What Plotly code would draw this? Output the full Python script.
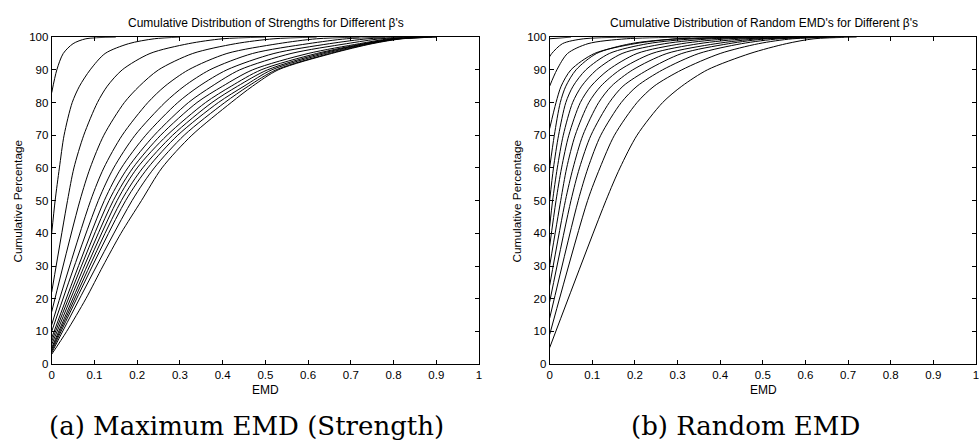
import plotly.graph_objects as go

# ---------------- data ----------------
# (a) Maximum EMD (Strength): one curve per beta, x = EMD, y = cumulative %
strength_x = [
    [0, 0.012, 0.027, 0.05, 0.08, 0.15],
    [0, 0.008, 0.018, 0.029, 0.048, 0.065, 0.09, 0.125, 0.18, 0.24, 0.3],
    [0, 0.037, 0.052, 0.075, 0.107, 0.13, 0.165, 0.23, 0.32, 0.4, 0.5],
    [0, 0.066, 0.09, 0.122, 0.17, 0.205, 0.25, 0.33, 0.43, 0.52, 0.62],
    [0, 0.091, 0.122, 0.165, 0.225, 0.265, 0.32, 0.41, 0.53, 0.62, 0.72],
    [0, 0.109, 0.145, 0.195, 0.265, 0.31, 0.37, 0.47, 0.6, 0.69, 0.78],
    [0, 0.123, 0.163, 0.22, 0.295, 0.345, 0.41, 0.52, 0.65, 0.74, 0.82],
    [0, 0.134, 0.178, 0.24, 0.32, 0.375, 0.44, 0.56, 0.69, 0.77, 0.85],
    [0, 0.144, 0.19, 0.255, 0.34, 0.4, 0.47, 0.6, 0.72, 0.79, 0.86],
    [0, 0.153, 0.2, 0.27, 0.36, 0.42, 0.49, 0.62, 0.73, 0.8, 0.87],
    [0, 0.163, 0.213, 0.283, 0.375, 0.435, 0.505, 0.63, 0.735, 0.805, 0.88],
    [0, 0.173, 0.225, 0.295, 0.39, 0.45, 0.515, 0.64, 0.74, 0.81, 0.89],
    [0, 0.188, 0.24, 0.31, 0.405, 0.46, 0.525, 0.65, 0.745, 0.815, 0.9],
    [0, 0.035, 0.08, 0.12, 0.162, 0.21, 0.258, 0.328, 0.42, 0.47, 0.53, 0.655, 0.75, 0.82, 0.9],
]
strength_y = [
    [83, 90, 95, 98, 99.5, 100],
    [40, 50, 60, 70, 80, 85, 90, 95, 98, 99.5, 100],
    [22, 50, 60, 70, 80, 85, 90, 95, 98, 99.5, 100],
    [16, 50, 60, 70, 80, 85, 90, 95, 98, 99.5, 100],
    [12, 50, 60, 70, 80, 85, 90, 95, 98, 99.5, 100],
    [10, 50, 60, 70, 80, 85, 90, 95, 98, 99.5, 100],
    [8, 50, 60, 70, 80, 85, 90, 95, 98, 99.5, 100],
    [7, 50, 60, 70, 80, 85, 90, 95, 98, 99.5, 100],
    [6, 50, 60, 70, 80, 85, 90, 95, 98, 99.5, 100],
    [5, 50, 60, 70, 80, 85, 90, 95, 98, 99.5, 100],
    [4.5, 50, 60, 70, 80, 85, 90, 95, 98, 99.5, 100],
    [4, 50, 60, 70, 80, 85, 90, 95, 98, 99.5, 100],
    [3.5, 50, 60, 70, 80, 85, 90, 95, 98, 99.5, 100],
    [3, 10, 20, 30, 40, 50, 60, 70, 80, 85, 90, 95, 98, 99.5, 100],
]

# (b) Random EMD
random_x = [
    [0, 0.05],
    [0, 0.005, 0.03, 0.08, 0.2],
    [0, 0.017, 0.042, 0.09, 0.18, 0.33],
    [0, 0.015, 0.027, 0.05, 0.105, 0.2, 0.3, 0.45],
    [0, 0.011, 0.025, 0.038, 0.062, 0.11, 0.19, 0.3, 0.47],
    [0, 0.009, 0.021, 0.038, 0.055, 0.085, 0.14, 0.23, 0.34, 0.5],
    [0, 0.007, 0.018, 0.032, 0.054, 0.075, 0.11, 0.17, 0.27, 0.38, 0.54],
    [0, 0.015, 0.028, 0.045, 0.072, 0.097, 0.138, 0.205, 0.31, 0.42, 0.57],
    [0, 0.026, 0.04, 0.06, 0.092, 0.12, 0.165, 0.24, 0.35, 0.46, 0.6],
    [0, 0.037, 0.055, 0.078, 0.115, 0.145, 0.195, 0.275, 0.39, 0.49, 0.63],
    [0, 0.05, 0.07, 0.097, 0.14, 0.172, 0.23, 0.31, 0.42, 0.51, 0.65],
    [0, 0.067, 0.09, 0.12, 0.168, 0.205, 0.265, 0.35, 0.45, 0.54, 0.67],
    [0, 0.089, 0.118, 0.152, 0.205, 0.245, 0.31, 0.4, 0.49, 0.57, 0.69],
    [0, 0.132, 0.165, 0.205, 0.265, 0.31, 0.37, 0.47, 0.555, 0.62, 0.72],
]
random_y = [
    [99.5, 100],
    [94, 95, 98, 99.5, 100],
    [85, 90, 95, 98, 99.5, 100],
    [72, 80, 85, 90, 95, 98, 99.5, 100],
    [60, 70, 80, 85, 90, 95, 98, 99.5, 100],
    [50, 60, 70, 80, 85, 90, 95, 98, 99.5, 100],
    [42, 50, 60, 70, 80, 85, 90, 95, 98, 99.5, 100],
    [36, 50, 60, 70, 80, 85, 90, 95, 98, 99.5, 100],
    [30, 50, 60, 70, 80, 85, 90, 95, 98, 99.5, 100],
    [24, 50, 60, 70, 80, 85, 90, 95, 98, 99.5, 100],
    [19, 50, 60, 70, 80, 85, 90, 95, 98, 99.5, 100],
    [14, 50, 60, 70, 80, 85, 90, 95, 98, 99.5, 100],
    [9, 50, 60, 70, 80, 85, 90, 95, 98, 99.5, 100],
    [5, 50, 60, 70, 80, 85, 90, 95, 98, 99.5, 100],
]

x_ticks = [0, 0.1, 0.2, 0.3, 0.4, 0.5, 0.6, 0.7, 0.8, 0.9, 1]
x_tick_labels = ["0", "0.1", "0.2", "0.3", "0.4", "0.5", "0.6", "0.7", "0.8", "0.9", "1"]
y_ticks = [0, 10, 20, 30, 40, 50, 60, 70, 80, 90, 100]
y_tick_labels = [str(v) for v in y_ticks]

title_a = "Cumulative Distribution of Strengths for Different β's"
title_b = "Cumulative Distribution of Random EMD's for Different β's"
caption_a = "(a) Maximum EMD (Strength)"
caption_b = "(b) Random EMD"

# ---------------- figure ----------------
W, H = 979, 447
fig = go.Figure()

line_style = dict(color="black", width=1, shape="spline", smoothing=0.8)
for xs, ys in zip(strength_x, strength_y):
    fig.add_trace(go.Scatter(x=xs, y=ys, mode="lines", xaxis="x", yaxis="y",
                             line=line_style, showlegend=False, hoverinfo="skip"))
for xs, ys in zip(random_x, random_y):
    fig.add_trace(go.Scatter(x=xs, y=ys, mode="lines", xaxis="x2", yaxis="y2",
                             line=line_style, showlegend=False, hoverinfo="skip"))

sans = "Liberation Sans, Arial, sans-serif"
serif = "DejaVu Serif, serif"
tickfont = dict(family=sans, size=11.5, color="black")
common_x = dict(range=[0, 1], tickmode="array", tickvals=x_ticks, ticktext=x_tick_labels,
                ticks="inside", ticklen=4, tickcolor="black", mirror="ticks",
                showline=True, linecolor="black", linewidth=1, showgrid=False,
                zeroline=False, tickfont=tickfont, fixedrange=True,
                ticklabeloverflow="allow")
common_y = dict(range=[0, 100], tickmode="array", tickvals=y_ticks, ticktext=y_tick_labels,
                ticks="inside", ticklen=4, tickcolor="black", mirror="ticks",
                showline=True, linecolor="black", linewidth=1, showgrid=False,
                zeroline=False, tickfont=tickfont, fixedrange=True)

y_dom = [1 - 368 / H, 1 - 32 / H]
fig.update_layout(
    width=W, height=H,
    margin=dict(l=0, r=0, t=0, b=0),
    paper_bgcolor="white", plot_bgcolor="white",
    xaxis=dict(domain=[49 / W, 479 / W], anchor="y", **common_x),
    yaxis=dict(domain=y_dom, anchor="x", **common_y),
    xaxis2=dict(domain=[550 / W, 1.0], anchor="y2", **common_x),
    yaxis2=dict(domain=y_dom, anchor="x2", **common_y),
    showlegend=False,
)

ann = []
ann.append(dict(text=title_a, x=265 / W, y=1 - 17 / H, font=dict(family=sans, size=12, color="black")))
ann.append(dict(text=title_b, x=766 / W, y=1 - 17 / H, font=dict(family=sans, size=12, color="black")))
ann.append(dict(text="EMD", x=264 / W, y=1 - 395 / H, font=dict(family=sans, size=12, color="black")))
ann.append(dict(text="EMD", x=765 / W, y=1 - 395 / H, font=dict(family=sans, size=12, color="black")))
ann.append(dict(text="Cumulative Percentage", x=15 / W, y=1 - 200 / H, textangle=-90,
                font=dict(family=sans, size=11.8, color="black")))
ann.append(dict(text="Cumulative Percentage", x=517 / W, y=1 - 200 / H, textangle=-90,
                font=dict(family=sans, size=11.8, color="black")))
ann.append(dict(text=caption_a, x=245 / W, y=1 - 432 / H, font=dict(family=serif, size=26, color="black")))
ann.append(dict(text=caption_b, x=747.5 / W, y=1 - 432 / H, font=dict(family=serif, size=26, color="black")))
for a in ann:
    a.update(xref="paper", yref="paper", showarrow=False, xanchor="center", yanchor="middle")
fig.update_layout(annotations=ann)

fig.write_html("out.html", config={"displayModeBar": False})
